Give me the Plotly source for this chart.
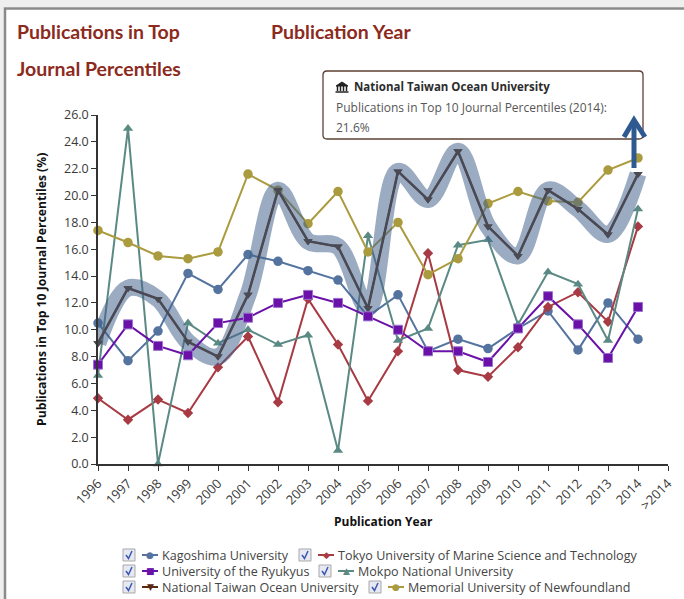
import plotly.graph_objects as go

W, H = 684, 599
years = [str(y) for y in range(1996, 2015)]
categories = years + [">2014"]

kagoshima = [10.5, 7.7, 9.9, 14.2, 13.0, 15.6, 15.1, 14.4, 13.7, 11.0, 12.6, 8.4, 9.3, 8.6, 10.1, 11.4, 8.5, 12.0, 9.3]
tokyo = [4.9, 3.3, 4.8, 3.8, 7.2, 9.5, 4.6, 12.3, 8.9, 4.7, 8.4, 15.7, 7.0, 6.5, 8.7, 11.7, 12.8, 10.6, 17.7]
ryukyus = [7.4, 10.4, 8.8, 8.1, 10.5, 10.9, 12.0, 12.6, 12.0, 11.0, 10.0, 8.4, 8.4, 7.6, 10.1, 12.5, 10.4, 7.9, 11.7]
mokpo = [6.6, 25.0, 0.0, 10.5, 9.0, 10.0, 8.9, 9.6, 1.0, 17.0, 9.2, 10.1, 16.3, 16.7, 10.4, 14.3, 13.4, 9.2, 19.0]
ntou = [9.0, 13.1, 12.3, 9.1, 8.0, 12.6, 20.4, 16.6, 16.2, 11.6, 21.8, 19.7, 23.3, 17.7, 15.5, 20.4, 19.0, 17.1, 21.6]
memorial = [17.4, 16.5, 15.5, 15.3, 15.8, 21.6, 20.4, 17.9, 20.3, 15.8, 18.0, 14.1, 15.3, 19.4, 20.3, 19.6, 19.5, 21.9, 22.8]

C_KAG, C_TOK, C_RYU, C_MOK, C_NTO, C_MEM = "#54749f", "#a83a43", "#6a12a8", "#5b8a85", "#5a2a10", "#ab9b3f"
FONT = "Open Sans"
TXT = "#3a3a3a"


def px(x):
    return x / W


def py(y):
    return 1 - y / H


def series(name, vals, color, symbol, size, width=2, halo=None):
    return go.Scatter(
        x=years, y=vals, name=name, mode="lines+markers", cliponaxis=False,
        line=dict(color=color, width=width),
        marker=dict(symbol=symbol, size=size, color=color,
                    line=dict(color=halo or color, width=1 if halo else 0)),
        showlegend=False, hoverinfo="skip",
    )


fig = go.Figure()
fig.add_trace(series("Kagoshima University", kagoshima, C_KAG, "circle", 9.5))
fig.add_trace(series("Tokyo University of Marine Science and Technology", tokyo, C_TOK, "diamond", 8))
fig.add_trace(series("Mokpo National University", mokpo, C_MOK, "triangle-up", 9))
fig.add_trace(series("Memorial University of Newfoundland", memorial, C_MEM, "circle", 9.5))
fig.add_trace(series("National Taiwan Ocean University", ntou, C_NTO, "triangle-down", 8, width=2.5))
fig.add_trace(go.Scatter(x=years, y=ntou, mode="lines", line=dict(color="rgba(64,96,140,0.53)", width=17, shape="spline", smoothing=1.0),
                         showlegend=False, hoverinfo="skip", cliponaxis=False))
fig.add_trace(series("National Taiwan Ocean University (selected)", ntou, "#4a4a55", "triangle-down", 8, width=1.8))
fig.add_trace(series("University of the Ryukyus", ryukyus, C_RYU, "square", 9, halo="#9a72cf"))

shapes = []
ann = []


def text(x, y, s, size=12, color=TXT, anchor="left", bold=False, family=FONT):
    ann.append(dict(xref="paper", yref="paper", x=px(x), y=py(y), text=f"<b>{s}</b>" if bold else s,
                    showarrow=False, xanchor=anchor, yanchor="middle", borderpad=0,
                    font=dict(family=family, size=size, color=color)))


def path(points, color, width=1, fill=None, close=False):
    d = "M" + " L".join(f"{px(a):.5f},{py(b):.5f}" for a, b in points) + (" Z" if close else "")
    shapes.append(dict(type="path", xref="paper", yref="paper", path=d,
                       line=dict(color=color, width=width), fillcolor=fill or "rgba(0,0,0,0)"))


def rect(x0, y0, x1, y1, color, width=1, fill=None):
    shapes.append(dict(type="rect", xref="paper", yref="paper", x0=px(x0), x1=px(x1), y0=py(y0), y1=py(y1),
                       line=dict(color=color, width=width), fillcolor=fill or "rgba(0,0,0,0)", layer="below"))


def round_rect(x0, y0, x1, y1, r, color, width, fill):
    def p(a, b):
        return f"{px(a):.5f},{py(b):.5f}"
    d = (f"M{p(x0 + r, y0)} L{p(x1 - r, y0)} Q{p(x1, y0)} {p(x1, y0 + r)} L{p(x1, y1 - r)} Q{p(x1, y1)} {p(x1 - r, y1)} "
         f"L{p(x0 + r, y1)} Q{p(x0, y1)} {p(x0, y1 - r)} L{p(x0, y0 + r)} Q{p(x0, y0)} {p(x0 + r, y0)} Z")
    shapes.append(dict(type="path", xref="paper", yref="paper", path=d, line=dict(color=color, width=width),
                       fillcolor=fill, layer="below"))


# page frame
rect(0, 0, W, 7, "rgba(0,0,0,0)", 0, "#efefef")
rect(0, 0, 4, H, "rgba(0,0,0,0)", 0, "#efefef")
path([(5, H), (5, 8.5), (W, 8.5)], "#8a8a8a", 2.5)

# headings
HEAD = "#8c2a1e"
text(16, 31, "Publications in Top", 19.5, HEAD, family="Lato", bold=True)
text(16, 69, "Journal Percentiles", 19.5, HEAD, family="Lato", bold=True)
text(270, 31, "Publication Year", 19.5, HEAD, family="Lato", bold=True)

# tooltip
round_rect(323, 71, 643, 139, 4, "#5c4033", 1.3, "#ffffff")
path([(336, 86), (342, 82), (348, 86)], "#222222", 1, "#222222", True)
for cx in (337.5, 340.5, 343.5, 346.5):
    path([(cx, 86), (cx, 91)], "#222222", 1.5)
path([(335.5, 92), (348.5, 92)], "#222222", 1.5)
text(353, 87, "National Taiwan Ocean University", 11.5, "#2c2c2c", bold=True)
text(335, 108, "Publications in Top 10 Journal Percentiles (2014):", 12, "#555555")
text(335, 127, "21.6%", 12, "#555555")

# blue arrow
path([(634, 168), (634, 120)], "#2f5a91", 5)
path([(624, 137), (634, 120), (645, 137)], "#2f5a91", 5)

# axis titles
text(383, 521, "Publication Year", 12, "#111111", "center", True)
ann.append(dict(xref="paper", yref="paper", x=px(41), y=py(290), text="<b>Publications in Top 10 Journal Percentiles (%)</b>",
                showarrow=False, textangle=-90, xanchor="center", yanchor="middle",
                font=dict(family=FONT, size=12.2, color="#111111")))

# legend
legend_rows = [
    (555, [(122, "Kagoshima University", C_KAG, "●"), (298, "Tokyo University of Marine Science and Technology", C_TOK, "◆")]),
    (571, [(122, "University of the Ryukyus", C_RYU, "■"), (318, "Mokpo National University", C_MOK, "▲")]),
    (587, [(122, "National Taiwan Ocean University", C_NTO, "▼"), (368, "Memorial University of Newfoundland", C_MEM, "●")]),
]
for y, entries in legend_rows:
    for x, label, color, glyph in entries:
        rect(x + 1, y - 6, x + 13, y + 6, "#a9a9a9", 1, "#e6e9f2")
        path([(x + 4, y), (x + 6.5, y + 3.5), (x + 10, y - 4)], "#3a55b0", 1.5)
        path([(x + 20, y), (x + 36, y)], color, 2)
        text(x + 28, y, glyph, 9, color, "center", family="DejaVu Sans")
        text(x + 39, y, label, 12.55, "#444444")

fig.update_layout(
    width=W, height=H, margin=dict(l=0, r=0, t=0, b=0, pad=0, autoexpand=False),
    paper_bgcolor="#ffffff", plot_bgcolor="rgba(0,0,0,0)", showlegend=False,
    shapes=shapes, annotations=ann, font=dict(family=FONT, size=12, color=TXT),
    xaxis=dict(domain=[px(98), px(668)], type="category", categoryorder="array", automargin=False,
               categoryarray=categories, tickmode="array", tickvals=categories, ticktext=categories, range=[0, 19], showgrid=False, zeroline=False,
               showline=True, linecolor="#333333", linewidth=1.5, ticks="outside", ticklen=5, tickcolor="#333333",
               tickangle=-45, tickfont=dict(family=FONT, size=13, color=TXT)),
    yaxis=dict(domain=[py(464), py(115)], range=[0, 26], dtick=2, tickformat=".1f", showgrid=False, zeroline=False, automargin=False,
               showline=True, linecolor="#333333", linewidth=1.5, ticks="outside", ticklen=5, tickcolor="#333333",
               tickfont=dict(family=FONT, size=12.5, color=TXT)),
)

fig.write_html("out.html", config=dict(displayModeBar=False),
               post_script="document.body.style.margin='0';document.body.style.overflow='hidden';")
